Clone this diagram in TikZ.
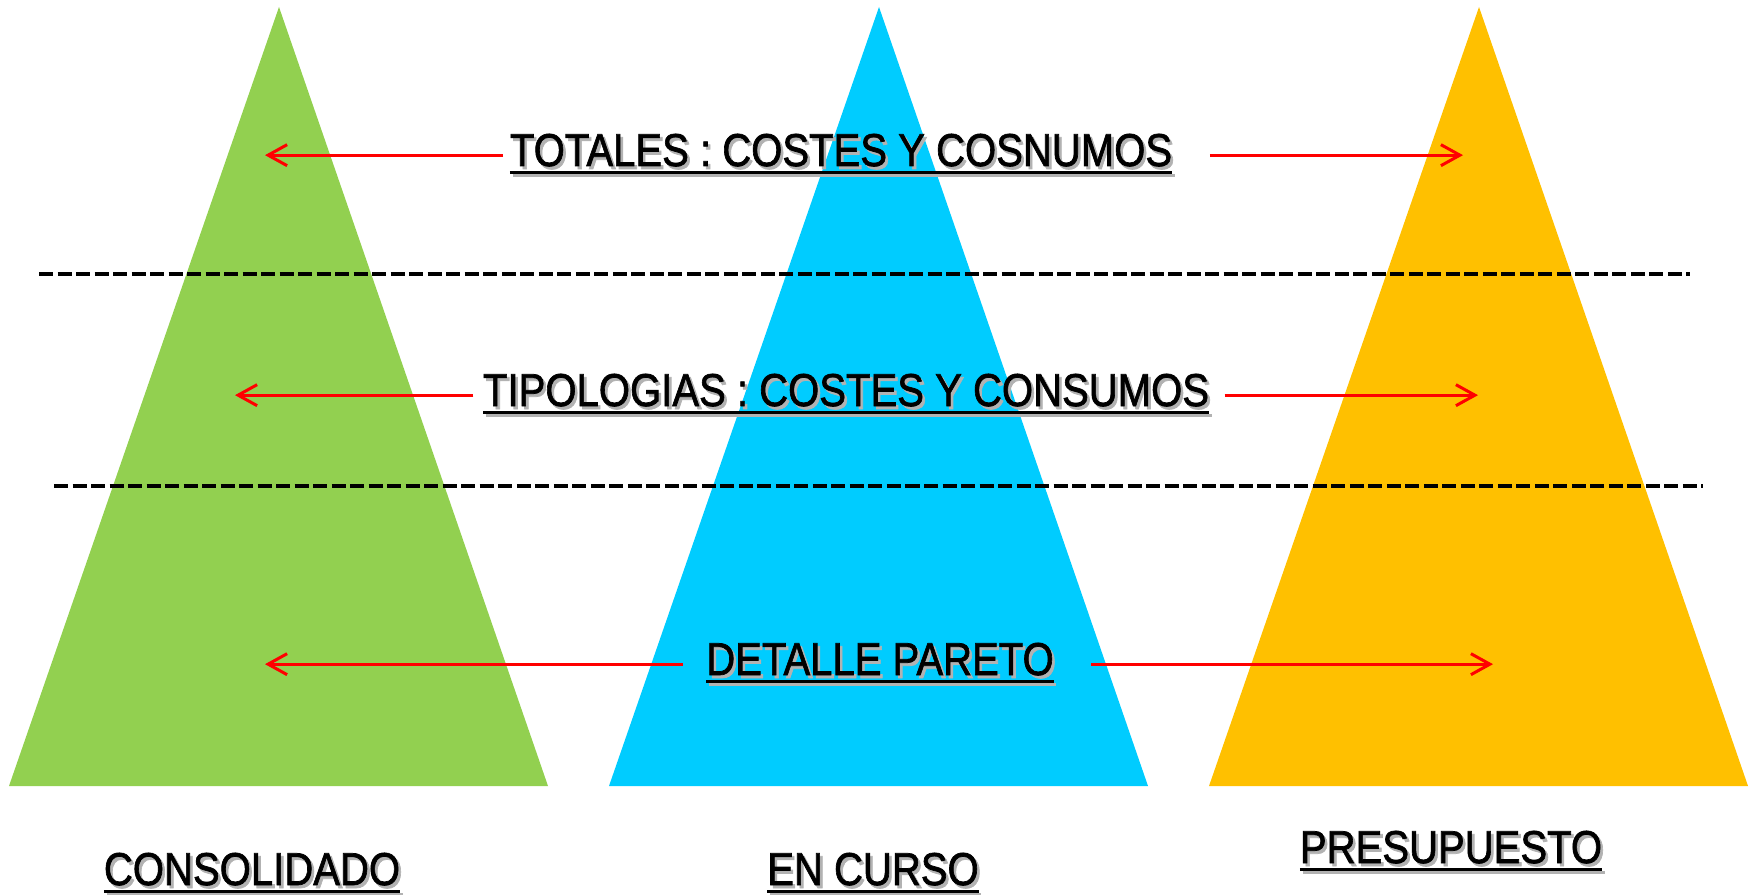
\documentclass[tikz,border=0pt]{standalone}
\usepackage{fontspec}
\setmainfont{Liberation Sans}
\newfontfamily\rotfont{Liberation Sans}[FakeBold=1.6]
\usetikzlibrary{arrows.meta}
\definecolor{consverde}{RGB}{146,208,80}
\definecolor{cursoazul}{RGB}{0,204,255}
\definecolor{presunaranja}{RGB}{255,192,0}
\newsavebox{\cajarotulo}
\newcommand{\rotulo}[1]{\scalebox{0.87}[1]{%
  \sbox{\cajarotulo}{#1}%
  \rlap{\hspace{0.03cm}\raisebox{-0.03cm}{\color{black!30}#1}}%
  \rlap{\hspace{0.03cm}\color{black!30}\rule[-0.105cm]{\wd\cajarotulo}{0.025cm}}%
  \rlap{\rule[-0.078cm]{\wd\cajarotulo}{0.025cm}}%
  #1}}

\begin{document}
\begin{tikzpicture}[x=0.01cm, y=-0.01cm,
        flecha/.style={draw=red, line width=0.03cm,
                       -{Straight Barb[length=0.19cm, width=0.21cm]}},
        corte/.style={draw=black, line width=0.04cm,
                      dash pattern=on 0.14cm off 0.045cm},
        txt/.style={inner sep=0pt, anchor=base,
                    font=\rotfont\fontsize{13.1pt}{15pt}\selectfont}]
      \useasboundingbox (0,0) rectangle (1755,894);
      % piramides
      \fill[consverde]    (9,786)   -- (279,7)  -- (548,786)  -- cycle;
      \fill[cursoazul]    (609,786) -- (879,7)  -- (1148,786) -- cycle;
      \fill[presunaranja] (1209,786) -- (1479,7) -- (1748,786) -- cycle;
      % separadores
      \draw[corte] (39,274) -- (1690,274);
      \draw[corte] (54,486) -- (1703,486);
      % niveles
      \node[txt] (tot)  at (841,166) {\rotulo{TOTALES : COSTES Y COSNUMOS}};
      \node[txt] (tipo) at (846,406) {\rotulo{TIPOLOGIAS : COSTES Y CONSUMOS}};
      \node[txt] (det)  at (880,675) {\rotulo{DETALLE PARETO}};
      % columnas
      \node[txt] (cons) at (252,885)  {\rotulo{CONSOLIDADO}};
      \node[txt] (cur)  at (873,885)  {\rotulo{EN CURSO}};
      \node[txt] (pres) at (1451,863) {\rotulo{PRESUPUESTO}};
      % puntas
      \coordinate (tot-l)  at (265,156);
      \coordinate (tot-r)  at (1463,156);
      \coordinate (tipo-l) at (235,395);
      \coordinate (tipo-r) at (1478,395);
      \coordinate (det-l)  at (265,665);
      \coordinate (det-r)  at (1493,665);
      \draw[flecha, shorten <=0.06cm] (tot.west)  -- (tot-l |- tot.west);
      \draw[flecha, shorten <=0.37cm] (tot.east)  -- (tot-r |- tot.east);
      \draw[flecha, shorten <=0.09cm] (tipo.west) -- (tipo-l |- tipo.west);
      \draw[flecha, shorten <=0.15cm] (tipo.east) -- (tipo-r |- tipo.east);
      \draw[flecha, shorten <=0.23cm] (det.west)  -- (det-l |- det.west);
      \draw[flecha, shorten <=0.37cm] (det.east)  -- (det-r |- det.east);
    \end{tikzpicture}
\end{document}
